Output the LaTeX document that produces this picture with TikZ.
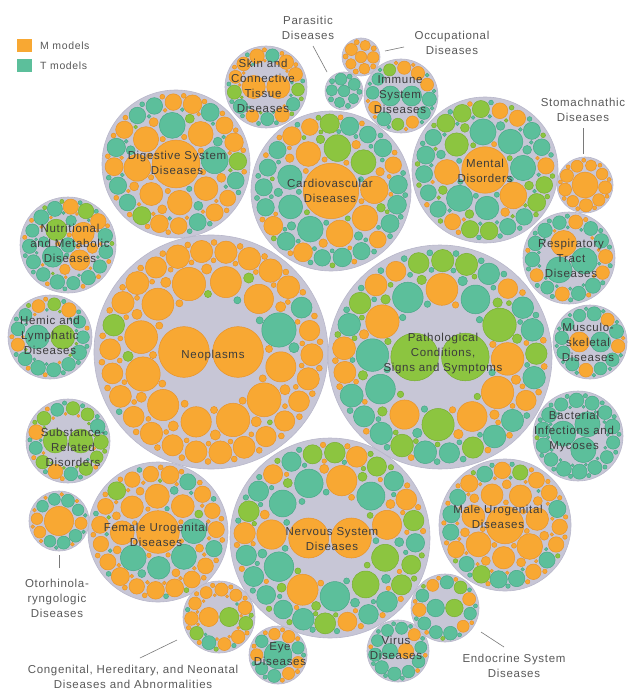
\documentclass[tikz,border=0pt]{standalone}
\usepackage{fontspec}
\setmainfont{Liberation Sans}[LetterSpace=6]
\definecolor{mOr}{HTML}{F8A833}
\definecolor{mOrD}{HTML}{E8932A}
\definecolor{tGr}{HTML}{5CBF9B}
\definecolor{tGrD}{HTML}{49A887}
\definecolor{gLi}{HTML}{8CC540}
\definecolor{gLiD}{HTML}{78AF30}
\definecolor{bgC}{HTML}{C7C6D6}
\definecolor{bgD}{HTML}{B8B7CA}
\definecolor{labC}{HTML}{3C3C3C}
\definecolor{leadC}{HTML}{7A7A7A}
\tikzset{
  cM/.style={fill=mOr,draw=mOrD,line width=0.5pt},
  cT/.style={fill=tGr,draw=tGrD,line width=0.5pt},
  cG/.style={fill=gLi,draw=gLiD,line width=0.5pt},
  bg/.style={fill=bgC,draw=bgD,line width=0.6pt},
  lab/.style={align=center,font=\fontsize{11.5}{15}\selectfont,text=labC,inner sep=0pt},
  olab/.style={align=center,font=\fontsize{11.5}{15}\selectfont,text=labC!85,inner sep=0pt},
  leg/.style={anchor=west,font=\fontsize{10.5}{13}\selectfont,text=labC!85,inner sep=0pt},
  sq/.style={minimum width=15pt,minimum height=13pt,inner sep=0pt},
  lead/.style={draw=leadC,line width=0.6pt},
}
\newcommand\pickcol{%
  \pgfmathsetmacro\uu{rnd}%
  \ifdim\uu pt<\pM pt\def\cc{cM}\else\ifdim\uu pt<\pMG pt\def\cc{cG}\else\def\cc{cT}\fi\fi}
\newcommand\bubble[6]{%
  \begin{scope}[shift={(#1,#2)}]
  \pgfmathsetseed{#6}%
  \path[bg] (0,0) circle [radius=#3];
  \def\pM{#4}\pgfmathsetmacro\pMG{#4+#5}%
  \pgfmathsetmacro\Bb{0.965*#3}%
  \pgfmathsetmacro\Ss{5+0.06*#3}%
  \loop
    \pgfmathsetmacro\Lim{2.6*\Ss}%
  \ifdim\Bb pt>\Lim pt
    \pgfmathsetmacro\Rr{\Bb-\Ss}%
    \pgfmathtruncatemacro\Nn{floor(180/asin(\Ss/\Rr))}%
    \pgfmathsetmacro\Ph{180/\Nn}%
    \pgfmathsetmacro\Om{\Rr*(1-cos(\Ph))}%
    \pgfmathsetmacro\Tout{\Bb*\Om/(2*\Ss+\Om)}%
    \pgfmathsetmacro\Cc{\Rr-\Ss}%
    \pgfmathsetmacro\Tin{\Cc*\Om/(2*\Ss-\Om)}%
    \pgfmathsetmacro\Off{360*rnd}%
    \foreach \k in {1,...,\Nn}{%
      \pgfmathsetmacro\ang{\Off+360*\k/\Nn}%
      \pgfmathsetmacro\rad{\Ss*(0.84+0.15*rnd)}%
      \pickcol
      \path[\cc] (\ang:\Rr) circle [radius=\rad];
      \ifdim\Tout pt>1.6pt
        \pickcol
        \path[\cc] (\ang+\Ph:\Bb-\Tout) circle [radius=0.88*\Tout];
      \fi
      \ifdim\Tin pt>1.6pt
        \pickcol
        \path[\cc] (\ang+\Ph:\Cc+\Tin) circle [radius=0.88*\Tin];
      \fi
    }%
    \pgfmathsetmacro\Bb{\Rr-\Ss}%
    \pgfmathsetmacro\Ss{\Ss*1.45}%
  \repeat
  \pgfmathsetmacro\Q{\Bb/\Ss}%
  \pgfmathsetmacro\Off{360*rnd}%
  \ifdim\Q pt<1.6pt
    \pickcol\path[\cc] (0,0) circle [radius=0.95*\Bb];
  \else\ifdim\Q pt<2.5pt
    \pickcol\path[\cc] (0:0.5*\Bb) circle [radius=0.47*\Bb];
    \pickcol\path[\cc] (180:0.5*\Bb) circle [radius=0.47*\Bb];
  \else
    \pickcol\path[\cc] (\Off:0.536*\Bb) circle [radius=0.45*\Bb];
    \pickcol\path[\cc] (\Off+120:0.536*\Bb) circle [radius=0.45*\Bb];
    \pickcol\path[\cc] (\Off+240:0.536*\Bb) circle [radius=0.45*\Bb];
  \fi\fi
  \end{scope}}
\begin{document}
\begin{tikzpicture}[x=1pt,y=-1pt]
\useasboundingbox[fill=white] (0,0) rectangle (628,690);
% bubbles: x, y, R, share M, share green, seed
\bubble{211}{352}{117}{0.85}{0.06}{11}
\bubble{440}{357}{112}{0.25}{0.30}{12}
\bubble{330}{538}{100}{0.33}{0.33}{13}
\bubble{331}{191}{80}{0.35}{0.20}{14}
\bubble{176}{164}{74}{0.66}{0.03}{15}
\bubble{485}{170}{73}{0.18}{0.37}{16}
\bubble{158}{532}{70}{0.80}{0.04}{17}
\bubble{505}{525}{66}{0.70}{0.05}{18}
\bubble{68}{245}{48}{0.50}{0.10}{19}
\bubble{50}{337}{42}{0.45}{0.08}{20}
\bubble{68}{441}{42}{0.35}{0.35}{21}
\bubble{59}{521}{30}{0.45}{0.00}{22}
\bubble{266}{87}{41}{0.50}{0.10}{23}
\bubble{344}{91}{19}{0.00}{0.00}{24}
\bubble{361}{57}{19}{1.00}{0.00}{25}
\bubble{401}{96}{37}{0.40}{0.10}{26}
\bubble{585}{185}{28}{1.00}{0.00}{27}
\bubble{569}{258}{46}{0.25}{0.00}{28}
\bubble{590}{342}{37}{0.30}{0.00}{29}
\bubble{578}{436}{45}{0.00}{0.05}{30}
\bubble{219}{617}{36}{0.65}{0.15}{31}
\bubble{278}{655}{29}{0.40}{0.00}{32}
\bubble{398}{651}{31}{0.30}{0.00}{33}
\bubble{445}{608}{34}{0.45}{0.15}{34}
% legend
\node[sq,fill=mOr] (lm) at (24.5,45.5) {};
\node[leg] (lmt) at (40,45.5) {M models};
\node[sq,fill=tGr] (lt) at (24.5,65.5) {};
\node[leg] (ltt) at (40,65.5) {T models};
% labels inside bubbles
\node[lab] (dig) at (177,162.5) {Digestive System\\Diseases};
\node[lab] (car) at (330,190.5) {Cardiovascular\\Diseases};
\node[lab] (men) at (485,170.5) {Mental\\Disorders};
\node[lab] (ski) at (263,85.5) {Skin and\\Connective\\Tissue\\Diseases};
\node[lab] (imm) at (400,95) {Immune\\System\\Diseases};
\node[lab] (nut) at (70,243) {Nutritional\\and Metabolic\\Diseases};
\node[lab] (res) at (571,258) {Respiratory\\Tract\\Diseases};
\node[lab] (hem) at (50,335) {Hemic and\\Lymphatic\\Diseases};
\node[lab] (neo) at (213,356) {Neoplasms};
\node[lab] (pat) at (443,354) {Pathological\\Conditions,\\Signs and Symptoms};
\node[lab] (mus) at (588,342) {Musculo-\\skeletal\\Diseases};
\node[lab] (sub) at (73,447) {Substance-\\Related\\Disorders};
\node[lab] (bac) at (574,432) {Bacterial\\Infections and\\Mycoses};
\node[lab] (fem) at (156,535) {Female Urogenital\\Diseases};
\node[lab] (ner) at (332,539.5) {Nervous System\\Diseases};
\node[lab] (mal) at (498,517) {Male Urogenital\\Diseases};
\node[lab] (eye) at (280,654.5) {Eye\\Diseases};
\node[lab] (vir) at (396,648) {Virus\\Diseases};
% labels outside with leaders
\node[olab] (par) at (308,27.5) {Parasitic\\Diseases};
\node[olab] (occ) at (452,42.5) {Occupational\\Diseases};
\node[olab] (sto) at (583,109.5) {Stomachnathic\\Diseases};
\node[olab] (oto) at (57,598) {Otorhinola-\\ryngologic\\Diseases};
\node[olab] (con) at (133,676.5) {Congenital, Hereditary, and Neonatal\\Diseases and Abnormalities};
\node[olab] (end) at (514,665.5) {Endocrine System\\Diseases};
\coordinate (parA) at (313,46); \coordinate (parB) at (327,72);
\coordinate (occA) at (404,47); \coordinate (occB) at (385,51);
\coordinate (stoA) at (583,128); \coordinate (stoB) at (583,154);
\coordinate (otoA) at (59,568); \coordinate (otoB) at (59,555);
\coordinate (conA) at (140,658); \coordinate (conB) at (177,640);
\coordinate (endA) at (504,647); \coordinate (endB) at (481,632);
\draw[lead] (parA) -- (parB);
\draw[lead] (occA) -- (occB);
\draw[lead] (stoA) -- (stoB);
\draw[lead] (otoA) -- (otoB);
\draw[lead] (conA) -- (conB);
\draw[lead] (endA) -- (endB);
\end{tikzpicture}
\end{document}
